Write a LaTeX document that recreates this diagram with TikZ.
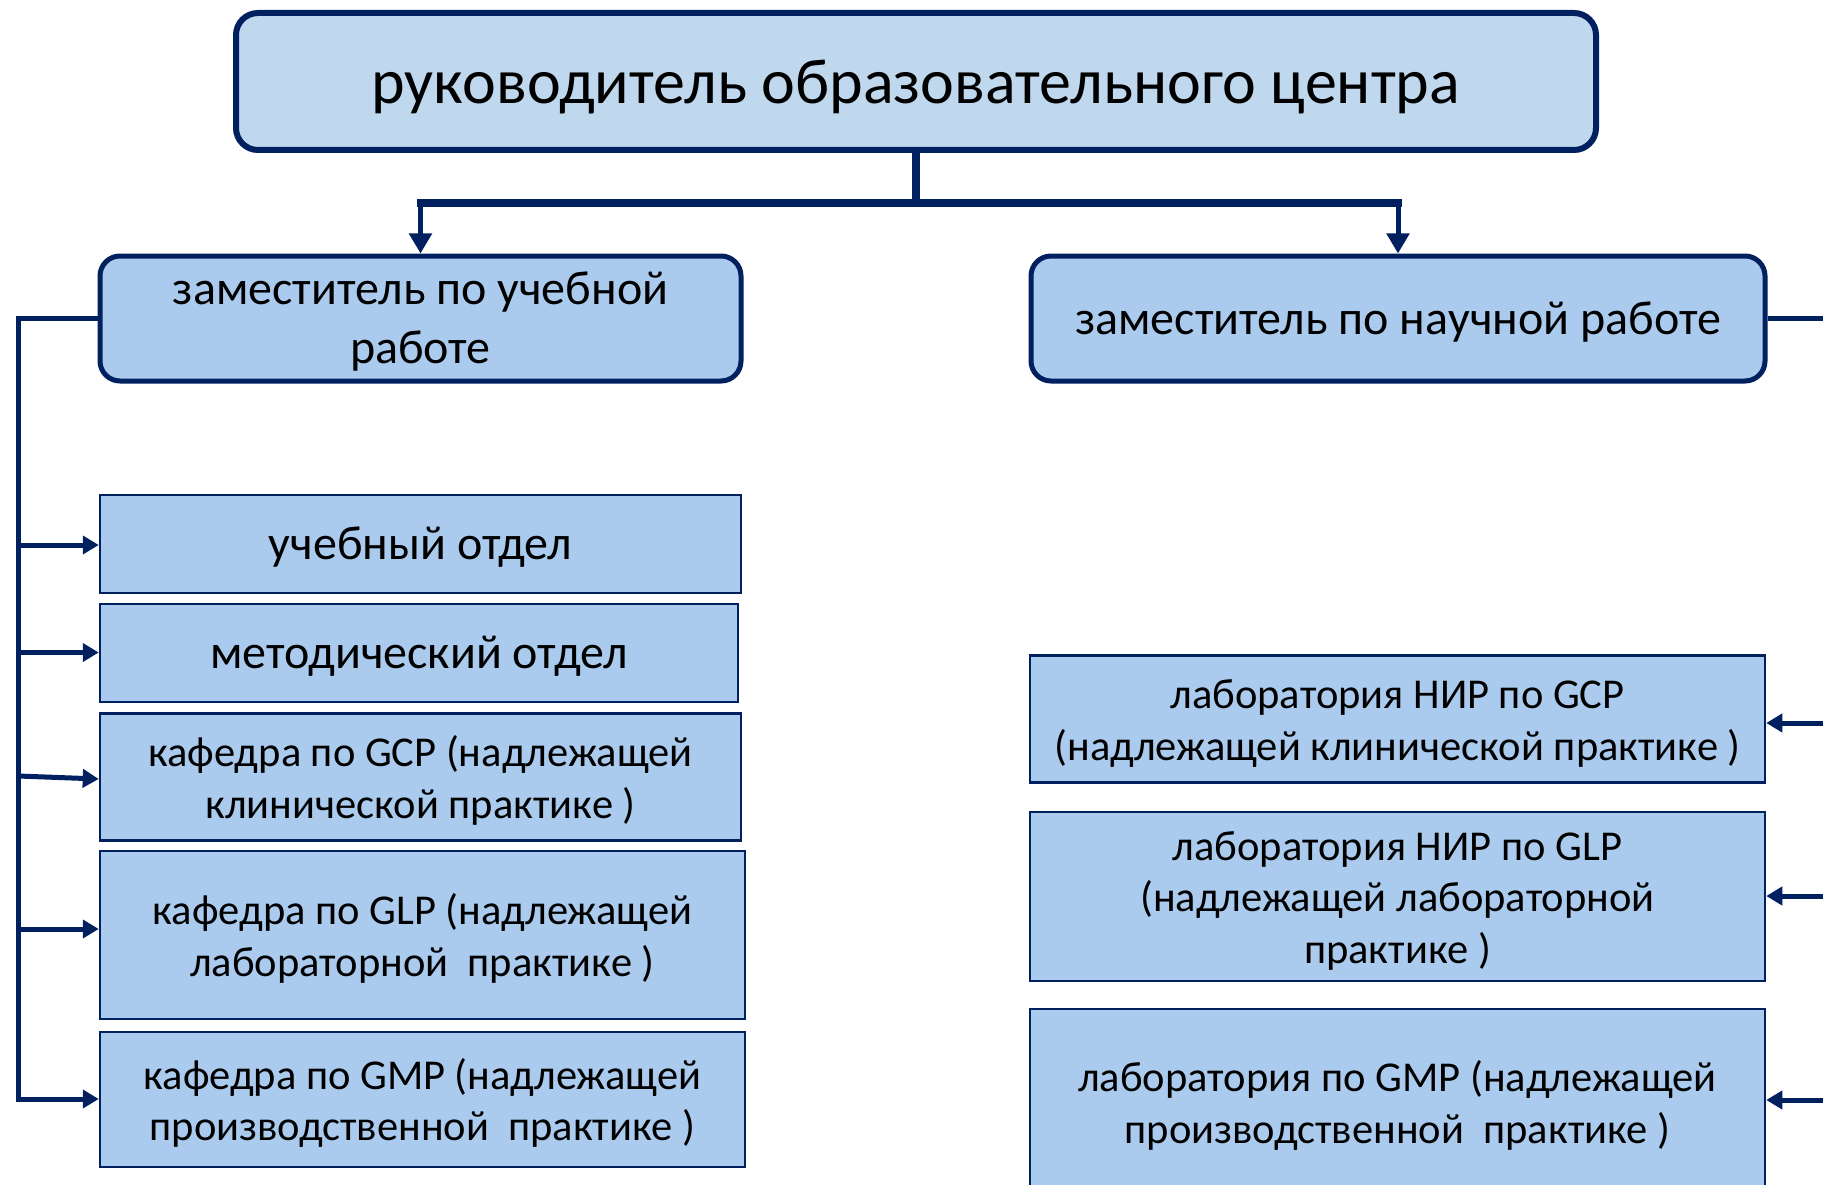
\documentclass[tikz,border=0pt]{standalone}
\usepackage{fontspec}
\setmainfont{Carlito}
\usetikzlibrary{arrows.meta}
\definecolor{navy}{HTML}{002060}
\definecolor{topfill}{HTML}{C0D8EE}
\definecolor{boxfill}{HTML}{AACBEE}
% text block shifted down inside the box without changing its extents
\newcommand\tx[2][5pt]{\raisebox{-#1}[\height][\depth]{\begin{tabular}{@{}c@{}}#2\end{tabular}}}
\tikzset{
  topbox/.style={draw=navy, line width=6pt, fill=topfill, rounded corners=22pt,
    text=black, inner sep=0pt, font=\fontsize{64}{78}\selectfont},
  depbox/.style={draw=navy, line width=5pt, fill=boxfill, rounded corners=20pt,
    text=black, inner sep=0pt, font=\fontsize{48}{58.5}\selectfont},
  bigunit/.style={draw=navy, line width=2.5pt, fill=boxfill,
    text=black, inner sep=0pt, font=\fontsize{48}{58.5}\selectfont},
  unitbox/.style={draw=navy, line width=2.5pt, fill=boxfill,
    text=black, inner sep=0pt, font=\fontsize{42.5}{51.5}\selectfont},
  trunk/.style={draw=navy, line width=7.5pt},
  downarr/.style={draw=navy, line width=5pt, -{Triangle[length=20pt,width=22pt]}},
  sideline/.style={draw=navy, line width=5pt},
  sidearr/.style={draw=navy, line width=5pt, line join=miter, -{Triangle[length=16pt,width=18pt]}},
}
\begin{document}
\begin{tikzpicture}[x=1pt,y=-1pt]
\useasboundingbox (0,0) rectangle (1823,1185);
\fill[white] (0,0) rectangle (1823,1185);
\clip (0,0) rectangle (1823,1185);

% boxes
\node[topbox, minimum width=1360pt, minimum height=137pt] (top) at (916,81.5)
  {\tx[6pt]{руководитель образовательного центра}};
\node[depbox, minimum width=641pt, minimum height=125pt] (depL) at (420.5,318.5)
  {\tx[4pt]{заместитель по учебной\\работе}};
\node[depbox, minimum width=734pt, minimum height=125pt] (depR) at (1398,318.5)
  {\tx[4pt]{заместитель по научной работе}};

\node[bigunit, minimum width=641pt, minimum height=98pt] (b1) at (420.5,544)
  {\tx[4pt]{учебный отдел}};
\node[bigunit, minimum width=638pt, minimum height=98pt] (b2) at (419,653)
  {\tx[4pt]{методический отдел}};
\node[unitbox, minimum width=641pt, minimum height=127pt] (b3) at (420.5,777)
  {\tx{кафедра по GCP (надлежащей\\клинической практике )}};
\node[unitbox, minimum width=645pt, minimum height=168pt] (b4) at (422.5,935)
  {\tx{кафедра по GLP (надлежащей\\лабораторной\ \ практике )}};
\node[unitbox, minimum width=645pt, minimum height=135pt] (b5) at (422.5,1099.5)
  {\tx{кафедра по GMP (надлежащей\\производственной\ \ практике )}};

\node[unitbox, minimum width=735pt, minimum height=127pt] (r1) at (1397.5,719)
  {\tx{лаборатория НИР по GCP\\(надлежащей клинической практике )}};
\node[unitbox, minimum width=735pt, minimum height=169pt] (r2) at (1397.5,896.5)
  {\tx{лаборатория НИР по GLP\\(надлежащей лабораторной\\практике )}};
\node[unitbox, minimum width=735pt, minimum height=186pt] (r3) at (1397.5,1102)
  {\tx{лаборатория по GMP (надлежащей\\производственной\ \ практике )}};

% top connectors
\coordinate (J) at (916,203);
\coordinate (JL) at (depL.north |- J);
\coordinate (JR) at (depR.north |- J);
\draw[trunk] (top.south) -- (J);
\draw[trunk, line cap=rect] (JL) -- (JR);
\draw[downarr] (JL) -- (depL.north);
\draw[downarr] (JR) -- (depR.north);

% left side
\coordinate (L5) at (18,1099);
\draw[sidearr] (depL.west) -| (L5) -- (L5 -| b5.west);
\coordinate (a1) at (18,545);
\coordinate (a2) at (18,652.5);
\coordinate (a3) at (18,776);
\coordinate (a4) at (18,929);
\draw[sidearr] (a1) -- (a1 -| b1.west);
\draw[sidearr] (a2) -- (a2 -| b2.west);
\draw[sidearr] (a3) -- (b3.west |- 0,779);
\draw[sidearr] (a4) -- (a4 -| b4.west);

% right side
\coordinate (RE) at (1840,318.5);
\draw[sideline] (depR.east) -- (RE);
\coordinate (c1) at (1840,723);
\coordinate (c2) at (1840,896);
\coordinate (c3) at (1840,1100);
\draw[sidearr] (c1) -- (c1 -| r1.east);
\draw[sidearr] (c2) -- (c2 -| r2.east);
\draw[sidearr] (c3) -- (c3 -| r3.east);
\end{tikzpicture}
\end{document}
